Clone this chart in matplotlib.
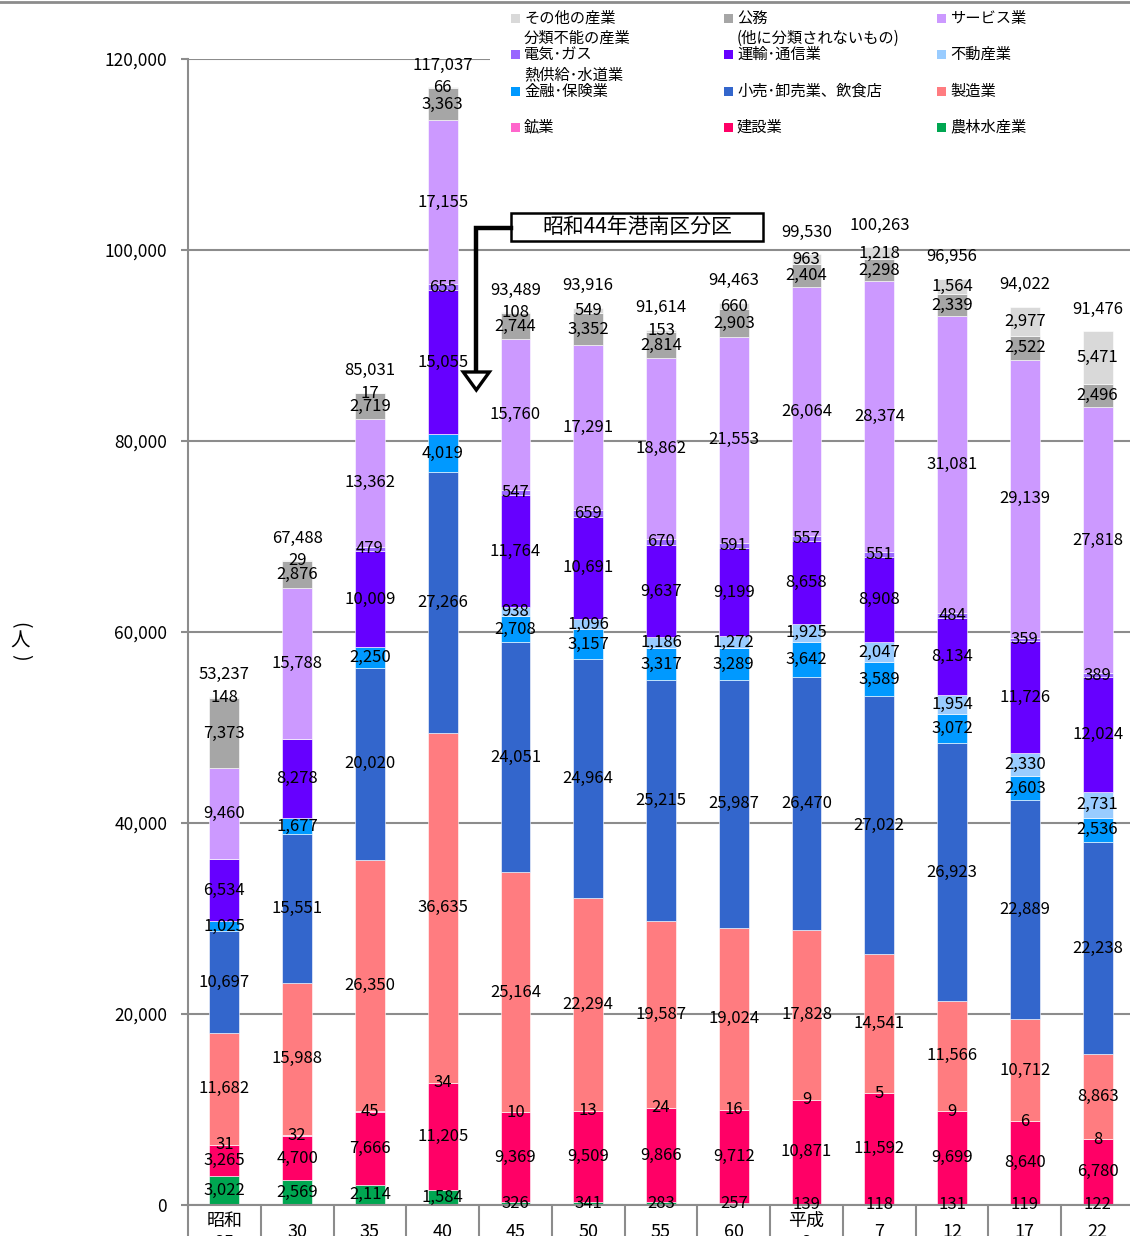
import numpy as np
import matplotlib
matplotlib.use('Agg')
import matplotlib.pyplot as plt
from matplotlib.patches import Rectangle, Polygon
from matplotlib.lines import Line2D

plt.rcParams['font.family'] = ['Noto Sans CJK JP', 'DejaVu Sans']

# 年次 (昭和25 ... 平成22)
years = ['昭和\n25', '30', '35', '40', '45', '50', '55', '60', '平成\n2', '7', '12', '17', '22']

# 産業別就業者数 (人), stacked bottom -> top
agri    = [3022, 2569, 2114, 1584, 326, 341, 283, 257, 139, 118, 131, 119, 122]
constr  = [3265, 4700, 7666, 11205, 9369, 9509, 9866, 9712, 10871, 11592, 9699, 8640, 6780]
mining  = [31, 32, 45, 34, 10, 13, 24, 16, 9, 5, 9, 6, 8]
manuf   = [11682, 15988, 26350, 36635, 25164, 22294, 19587, 19024, 17828, 14541, 11566, 10712, 8863]
retail  = [10697, 15551, 20020, 27266, 24051, 24964, 25215, 25987, 26470, 27022, 26923, 22889, 22238]
finance = [1025, 1677, 2250, 4019, 2708, 3157, 3317, 3289, 3642, 3589, 3072, 2603, 2536]
estate  = [np.nan, np.nan, np.nan, np.nan, 938, 1096, 1186, 1272, 1925, 2047, 1954, 2330, 2731]
transp  = [6534, 8278, 10009, 15055, 11764, 10691, 9637, 9199, 8658, 8908, 8134, 11726, 12024]
util    = [np.nan, np.nan, 479, 655, 547, 659, 670, 591, 557, 551, 484, 359, 389]
service = [9460, 15788, 13362, 17155, 15760, 17291, 18862, 21553, 26064, 28374, 31081, 29139, 27818]
public  = [7373, 2876, 2719, 3363, 2744, 3352, 2814, 2903, 2404, 2298, 2339, 2522, 2496]
other   = [148, 29, 17, 66, 108, 549, 153, 660, 963, 1218, 1564, 2977, 5471]
totals  = [53237, 67488, 85031, 117037, 93489, 93916, 91614, 94463, 99530, 100263, 96956, 94022, 91476]

series = [agri, constr, mining, manuf, retail, finance, estate, transp, util, service, public, other]
colors = ['#00A651', '#FF0066', '#FF66CC', '#FF7C80', '#3366CC', '#0099FF',
          '#99CCFF', '#6600FF', '#9966FF', '#CC99FF', '#A6A6A6', '#D9D9D9']

fig = plt.figure(figsize=(11.3, 12.36), dpi=100)
ax = fig.add_axes([188/1130, 31/1236, 946/1130, 1146/1236])

x = np.arange(len(years))
bottom = np.zeros(len(years))
for vals, col in zip(series, colors):
    v = np.array(vals, dtype=float)
    h = np.nan_to_num(v)
    ax.bar(x, h, 0.41, bottom=bottom, color=col, edgecolor='white', linewidth=0.4, zorder=2)
    for i in range(len(x)):
        if not np.isnan(v[i]):
            ax.text(x[i], bottom[i] + h[i] / 2, '{:,}'.format(int(v[i])),
                    ha='center', va='center', fontsize=12, zorder=4)
    bottom += h

for i, t in enumerate(totals):
    ax.annotate('{:,}'.format(t), (x[i], bottom[i]), xytext=(0, 16), textcoords='offset points',
                ha='center', va='center', fontsize=12)

ax.set_xlim(-0.5, len(years) - 0.5)
ax.set_ylim(0, 120000)
ax.set_yticks(range(0, 120001, 20000))
ax.set_yticklabels(['{:,}'.format(v) for v in range(0, 120001, 20000)])
ax.yaxis.grid(True, color='#8C8C8C', linewidth=1.5, zorder=0)
ax.set_axisbelow(True)
for s in ['top', 'right']:
    ax.spines[s].set_visible(False)
for s in ['left', 'bottom']:
    ax.spines[s].set_color('#8C8C8C')
    ax.spines[s].set_linewidth(1.5)
ax.tick_params(axis='y', length=5, width=1.5, color='#8C8C8C', pad=10, labelsize=12.5)

ax.set_xticks(x)
ax.set_xticklabels(years, fontsize=13, linespacing=1.3)
ax.set_xticks(np.arange(-0.5, len(years)), minor=True)
ax.tick_params(axis='x', which='major', length=0, pad=19.5)
ax.tick_params(axis='x', which='minor', length=30, width=1.5, color='#8C8C8C')
for lab in ax.get_xticklabels():
    lab.set_va('center')

# 昭和44年港南区分区
ax.add_patch(Rectangle((3.942, 100942), 3.462, 2932, facecolor='white', edgecolor='black',
                       linewidth=1.8, zorder=5, clip_on=False))
ax.text(5.673, 102408, '昭和44年港南区分区', ha='center', va='center', fontsize=15, zorder=6)
ax.plot([3.942, 3.462, 3.462], [102304, 102304, 87225], color='black', linewidth=3.2,
        solid_joinstyle='miter', zorder=5)
ax.add_patch(Polygon([(3.283, 87225), (3.641, 87225), (3.462, 85340)], closed=True,
                     facecolor='white', edgecolor='black', linewidth=2.4, zorder=6))

# legend (drawn by hand to keep the wrapped labels)
fig.add_artist(Rectangle((490/1130, 1 - 142/1236), 640/1130, 138/1236, transform=fig.transFigure,
                         facecolor='white', edgecolor='none', zorder=3))
fig.add_artist(Line2D([0, 1], [1 - 2/1236, 1 - 2/1236], transform=fig.transFigure,
                      color='#8C8C8C', linewidth=2))
leg_items = [('その他の産業', '#D9D9D9'), ('公務', '#A6A6A6'), ('サービス業', '#CC99FF'),
             ('電気･ガス', '#9966FF'), ('運輸･通信業', '#6600FF'), ('不動産業', '#99CCFF'),
             ('金融･保険業', '#0099FF'), ('小売･卸売業、飲食店', '#3366CC'), ('製造業', '#FF7C80'),
             ('鉱業', '#FF66CC'), ('建設業', '#FF0066'), ('農林水産業', '#00A651')]
col_x = [511, 724, 937]
row_y = [18, 54, 91, 127]
for k, (lab, col) in enumerate(leg_items):
    px, py = col_x[k % 3], row_y[k // 3]
    fig.add_artist(Rectangle((px/1130, 1 - (py + 4.5)/1236), 9/1130, 9/1236,
                             transform=fig.transFigure, facecolor=col, edgecolor='none', zorder=4))
    fig.text((px + 13)/1130, 1 - py/1236, lab, ha='left', va='center', fontsize=11, zorder=5)
fig.text(524/1130, 1 - 38/1236, '分類不能の産業', ha='left', va='center', fontsize=11, zorder=5)
fig.text(737/1130, 1 - 38/1236, '(他に分類されないもの)', ha='left', va='center', fontsize=11, zorder=5)
fig.text(524/1130, 1 - 75/1236, '熱供給･水道業', ha='left', va='center', fontsize=11, zorder=5)

# (人) written vertically
fig.text(20/1130, 1 - 625/1236, '(', ha='center', va='center', fontsize=14, rotation=-90)
fig.text(20/1130, 1 - 641/1236, '人', ha='center', va='center', fontsize=14)
fig.text(20/1130, 1 - 657/1236, ')', ha='center', va='center', fontsize=14, rotation=-90)

fig.savefig('out.png', dpi=100)
